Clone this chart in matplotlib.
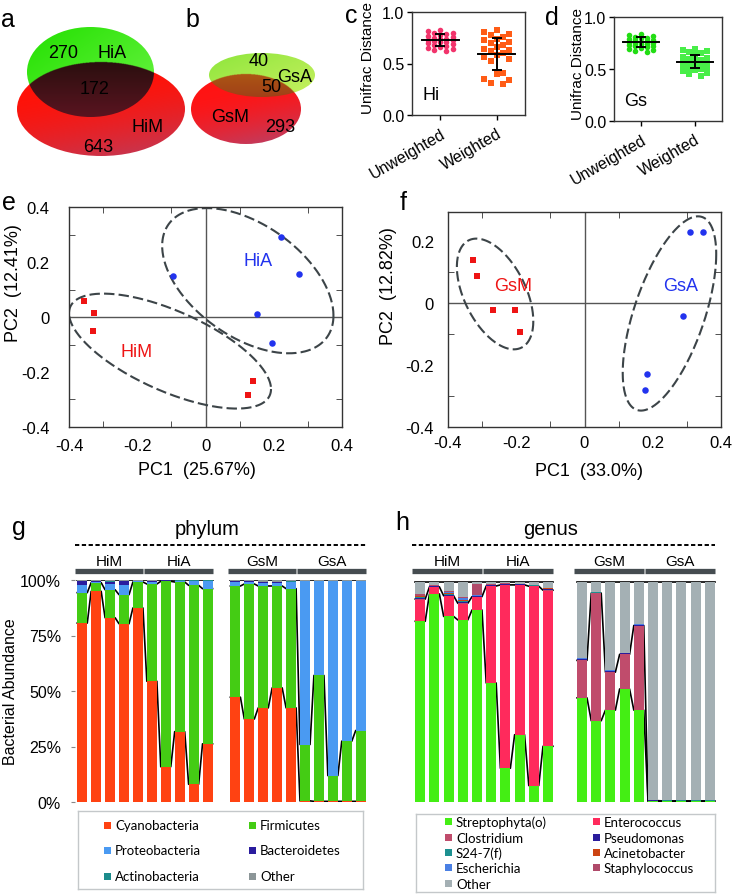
import numpy as np
import matplotlib
matplotlib.use("Agg")
import matplotlib.pyplot as plt
from matplotlib.patches import Ellipse, Rectangle
from matplotlib.colors import to_rgb
from matplotlib.ticker import FixedLocator

plt.rcParams['font.family'] = ['Liberation Sans', 'DejaVu Sans']

W, H = 732, 895

# ---- data ----
hi_counts = [270, 172, 643]      # HiA only, shared, HiM only
gs_counts = [40, 50, 293]        # GsA only, shared, GsM only

dist_groups = ["Unweighted", "Weighted"]
hi_unweighted = [0.83, 0.82, 0.80, 0.80, 0.79, 0.78, 0.77, 0.76, 0.75, 0.74, 0.74, 0.73, 0.73,
                 0.72, 0.71, 0.71, 0.70, 0.69, 0.68, 0.67, 0.66, 0.65, 0.64, 0.63, 0.62]
hi_weighted = [0.83, 0.81, 0.79, 0.78, 0.76, 0.74, 0.73, 0.71, 0.70, 0.68, 0.66, 0.64, 0.63,
               0.62, 0.60, 0.58, 0.56, 0.54, 0.52, 0.41, 0.40, 0.35, 0.34, 0.31, 0.30]
hi_mean = [0.73, 0.59]
hi_sd = [0.06, 0.155]
gs_unweighted = [0.84, 0.83, 0.82, 0.81, 0.80, 0.80, 0.79, 0.78, 0.78, 0.77, 0.76, 0.76, 0.75,
                 0.75, 0.74, 0.74, 0.73, 0.72, 0.72, 0.71, 0.70, 0.69, 0.68, 0.67, 0.66]
gs_weighted = [0.69, 0.68, 0.67, 0.66, 0.65, 0.63, 0.62, 0.61, 0.60, 0.59, 0.58, 0.57, 0.57,
               0.56, 0.55, 0.54, 0.53, 0.52, 0.51, 0.50, 0.49, 0.48, 0.46, 0.45, 0.43]
gs_mean = [0.76, 0.57]
gs_sd = [0.048, 0.063]

him_pc1 = [-0.355, -0.326, -0.331, 0.138, 0.126]
him_pc2 = [0.058, 0.016, -0.052, -0.234, -0.285]
hia_pc1 = [0.222, 0.275, -0.096, 0.151, 0.195]
hia_pc2 = [0.291, 0.158, 0.149, 0.010, -0.093]
gsm_pc1 = [-0.327, -0.314, -0.269, -0.203, -0.190]
gsm_pc2 = [0.139, 0.089, -0.022, -0.022, -0.092]
gsa_pc1 = [0.309, 0.347, 0.289, 0.183, 0.176]
gsa_pc2 = [0.229, 0.229, -0.041, -0.230, -0.281]

sample_groups = ["HiM", "HiA", "GsM", "GsA"]

phylum_names = ["Cyanobacteria", "Firmicutes", "Proteobacteria", "Bacteroidetes",
                "Actinobacteria", "Other"]
phylum_colors = ["#ff4212", "#44cc14", "#4a9af2", "#2a1c9e", "#1c8c8c", "#8c9698"]
cyanobacteria = [80.6, 94.9, 83.0, 80.3, 87.4, 54.4, 15.9, 31.7, 8.0, 26.2,
                 47.2, 37.4, 42.4, 51.4, 42.4, 0.5, 0.3, 0.3, 0.3, 0.3]
firmicutes = [13.7, 3.9, 12.6, 13.1, 11.7, 43.8, 83.5, 67.4, 89.6, 69.9,
              50.1, 60.8, 54.9, 45.9, 53.7, 25.4, 56.7, 11.6, 27.1, 31.9]
proteobacteria = [3.6, 0.5, 2.7, 4.5, 0.3, 1.0, 0.3, 0.5, 2.0, 3.5,
                  2.0, 1.0, 1.5, 1.5, 3.0, 73.5, 42.4, 87.5, 72.0, 67.2]
bacteroidetes = [1.5, 0.3, 1.0, 1.5, 0.2, 0.3, 0.1, 0.1, 0.1, 0.1,
                 0.2, 0.2, 0.2, 0.2, 0.2, 0.1, 0.1, 0.1, 0.1, 0.1]
actinobacteria = [0.2, 0.1, 0.2, 0.2, 0.1, 0.1, 0.1, 0.1, 0.1, 0.1,
                  0.1, 0.1, 0.1, 0.1, 0.1, 0.1, 0.1, 0.1, 0.1, 0.1]
phylum_other = [0.4, 0.3, 0.5, 0.4, 0.3, 0.4, 0.1, 0.2, 0.2, 0.2,
                0.4, 0.5, 0.9, 0.9, 0.6, 0.4, 0.4, 0.4, 0.4, 0.4]

genus_names = ["Streptophyta(o)", "Enterococcus", "Clostridium", "Pseudomonas", "S24-7(f)",
               "Acinetobacter", "Escherichia", "Staphylococcus", "Other"]
genus_colors = ["#44ee14", "#ff2a5c", "#c04c6c", "#2a1c9c", "#1c9090", "#cc4412",
                "#4a80e4", "#b04a6a", "#a4b0b4"]
streptophyta = [81.4, 93.7, 83.6, 82.0, 86.5, 53.6, 15.2, 30.3, 7.4, 25.1,
                46.9, 36.6, 41.4, 50.9, 41.4, 0.3, 0.3, 0.3, 0.3, 0.3]
enterococcus = [9.7, 3.0, 9.0, 7.2, 5.7, 43.5, 82.5, 67.4, 89.7, 70.1,
                0.1, 0.1, 0.1, 0.1, 0.1, 0.1, 0.1, 0.1, 0.1, 0.1]
clostridium = [0.3, 0.2, 0.3, 0.3, 0.3, 0.2, 0.1, 0.1, 0.1, 0.2,
               16.8, 57.4, 17.0, 15.5, 38.0, 0.2, 0.1, 0.1, 0.1, 0.1]
pseudomonas = [0.6, 0.2, 0.5, 0.6, 0.2, 0.3, 0.3, 0.2, 0.3, 0.6,
               0.6, 0.2, 0.5, 0.4, 0.2, 0.1, 0.1, 0.1, 0.1, 0.1]
s24_7 = [0.3, 0.1, 0.3, 0.3, 0.1, 0.1, 0.1, 0.1, 0.1, 0.1,
         0.1, 0.1, 0.1, 0.1, 0.1, 0.1, 0.1, 0.1, 0.1, 0.1]
acinetobacter = [0.4, 0.1, 0.4, 0.8, 0.2, 0.1, 0.1, 0.1, 0.1, 0.1,
                 0.1, 0.1, 0.1, 0.1, 0.1, 0.1, 0.1, 0.1, 0.1, 0.1]
escherichia = [0.3, 0.1, 0.3, 0.6, 0.1, 0.1, 0.1, 0.1, 0.1, 0.3,
               0.1, 0.1, 0.1, 0.1, 0.1, 0.1, 0.1, 0.1, 0.1, 0.1]
staphylococcus = [0.5, 0.3, 0.5, 0.5, 4.9, 0.2, 0.1, 0.1, 0.1, 0.1,
                  0.1, 0.1, 0.1, 0.1, 0.1, 0.1, 0.1, 0.1, 0.1, 0.1]
genus_other = [5.8, 1.6, 4.4, 7.0, 1.3, 1.2, 0.8, 0.9, 1.4, 2.7,
               34.5, 4.6, 39.9, 32.0, 19.2, 98.2, 98.3, 98.3, 98.3, 98.3]


fig = plt.figure(figsize=(W / 100, H / 100), dpi=100)


def px_axes(l, t, r, b):
    return fig.add_axes([l / W, 1 - b / H, (r - l) / W, (b - t) / H])


def panel_label(x, y, s):
    fig.text(x / W, 1 - y / H, s, fontsize=18, ha='center', va='baseline')


# ---- a, b: venn ----
def blend(c0, c1, t):
    c0, c1 = np.array(to_rgb(c0)), np.array(to_rgb(c1))
    return c0 * (1 - t[..., None]) + c1 * t[..., None]


def grid(cx, cy, w, h):
    xs = np.linspace(cx - w / 2, cx + w / 2, int(w * 3))
    ys = np.linspace(cy - h / 2, cy + h / 2, int(h * 3))
    X, Y = np.meshgrid(xs, ys)
    return X, Y, (X - xs[0]) / w, (Y - ys[0]) / h


def draw_venn(ax, top, bot, top_cols, mid_cols, bot_cols):
    cx, cy, w, h = bot
    X, Y, u, v = grid(*bot)
    t = np.clip(0.3 * u + 0.9 * v - 0.3, 0, 1) ** 1.6
    ell = Ellipse((cx, cy), w, h, fc='none', ec='none')
    ax.add_patch(ell)
    im = ax.imshow(blend(bot_cols[0], bot_cols[1], t), extent=(cx - w / 2, cx + w / 2, cy + h / 2, cy - h / 2),
                   origin='upper', aspect='auto', interpolation='bilinear', zorder=1)
    im.set_clip_path(ell)

    tx, ty, tw, th = top
    X, Y, u, v = grid(*top)
    inside = ((X - cx) / (w / 2)) ** 2 + ((Y - cy) / (h / 2)) ** 2 <= 1
    img = np.where(inside[..., None], blend(mid_cols[0], mid_cols[1], v),
                   blend(top_cols[0], top_cols[1], np.clip(0.5 * u + 0.5 * v, 0, 1)))
    ell2 = Ellipse((tx, ty), tw, th, fc='none', ec='none')
    ax.add_patch(ell2)
    im2 = ax.imshow(img, extent=(tx - tw / 2, tx + tw / 2, ty + th / 2, ty - th / 2),
                    origin='upper', aspect='auto', interpolation='bilinear', zorder=2)
    im2.set_clip_path(ell2)


ax_v = px_axes(0, 0, 366, 170)
ax_v.set_xlim(0, 366)
ax_v.set_ylim(170, 0)
ax_v.axis('off')
draw_venn(ax_v, (90.5, 73, 127, 90), (101, 110, 168, 94),
          ('#22e000', '#70f548'), ('#0c0c04', '#5a1420'), ('#ff1208', '#b0446c'))
draw_venn(ax_v, (262, 76, 106, 44), (246, 110, 110, 70),
          ('#8ee63c', '#c8f060'), ('#b86a10', '#a04018'), ('#ff1414', '#a84c7c'))
vt = dict(ha='center', va='center', fontsize=13, zorder=5)
ax_v.text(63, 53, str(hi_counts[0]), **vt)
ax_v.text(112, 53, "HiA", **vt)
ax_v.text(95, 90, str(hi_counts[1]), **vt)
ax_v.text(148, 128, "HiM", **vt)
ax_v.text(98, 148, str(hi_counts[2]), **vt)
ax_v.text(259, 62, str(gs_counts[0]), **vt)
ax_v.text(295, 77, "GsA", **vt)
ax_v.text(271, 88, str(gs_counts[1]), **vt)
ax_v.text(230, 118, "GsM", **vt)
ax_v.text(280, 128, str(gs_counts[2]), **vt)
panel_label(8, 27, 'a')
panel_label(192, 27, 'b')


# ---- c, d: unifrac distances ----
def dist_panel(ax, series, colors, markers, means, sds, tag, label_y):
    for i, vals in enumerate(series):
        v = np.sort(vals)[::-1]
        offs = np.array([0, -2, 2, -1, 1])[np.arange(len(v)) % 5] * 0.11
        ax.scatter(i + offs, v, s=16, c=colors[i], marker=markers[i], lw=0, zorder=2)
        ax.errorbar(i, means[i], yerr=sds[i], color='k', capsize=3.6, lw=1.4, capthick=1.4, zorder=3)
        ax.plot([i - 0.33, i + 0.33], [means[i], means[i]], color='k', lw=1.4, zorder=3)
    ax.set_xlim(-0.5, 1.5)
    ax.set_ylim(0, 1.0)
    ax.set_yticks([0, 0.5, 1.0], ['0.0', '0.5', '1.0'])
    ax.set_xticks([0, 1])
    ax.set_xticklabels(dist_groups, rotation=30, ha='right', va='top', rotation_mode='anchor')
    ax.tick_params(labelsize=11.5, length=3.5, width=1, pad=2)
    ax.tick_params(axis='x', pad=4)
    for s in ax.spines.values():
        s.set_linewidth(1.0)
        s.set_color('#333333')
    ax.set_ylabel("Unifrac Distance", fontsize=11)
    ax.yaxis.set_label_coords(label_y, 0.56)
    ax.text(0.09, 0.2, tag, transform=ax.transAxes, fontsize=13, ha='left', va='center')


ax_c = px_axes(412, 13, 525, 116)
dist_panel(ax_c, [hi_unweighted, hi_weighted], ['#f2346c', '#ff5c16'], ['o', 's'],
           hi_mean, hi_sd, "Hi", -0.33)
ax_d = px_axes(614, 18, 722, 122)
dist_panel(ax_d, [gs_unweighted, gs_weighted], ['#22dd14', '#48ee48'], ['o', 's'],
           gs_mean, gs_sd, "Gs", -0.27)
panel_label(351, 23, 'c')
panel_label(552, 25, 'd')


# ---- e, f: PCoA ----
def ring(ax, cx, cy, dx, dy, k):
    t = np.linspace(0, 2 * np.pi, 300)
    phi = np.arccos(k)
    ax.plot(cx + dx * np.cos(t), cy + dy * np.cos(t + phi), color='#3c4448', lw=1.5,
            ls=(0, (5, 2)), zorder=1)


def pca_panel(ax, ylim, minor_y):
    ax.set_xlim(-0.4, 0.4)
    ax.set_ylim(*ylim)
    ax.axhline(0, color='#555555', lw=1.0, zorder=0)
    ax.axvline(0, color='#555555', lw=1.0, zorder=0)
    ax.set_xticks([-0.4, -0.2, 0, 0.2, 0.4], ['-0.4', '-0.2', '0', '0.2', '0.4'])
    ax.xaxis.set_minor_locator(FixedLocator([-0.3, -0.1, 0.1, 0.3]))
    ax.yaxis.set_minor_locator(FixedLocator(minor_y))
    ax.tick_params(which='major', length=0, labelsize=12)
    ax.tick_params(which='minor', length=4, direction='in', top=True, right=True, color='#333333')
    for s in ax.spines.values():
        s.set_linewidth(1.0)
        s.set_color('#333333')


ax_e = px_axes(69, 208, 342, 428)
pca_panel(ax_e, (-0.4, 0.4), [-0.3, -0.1, 0.1, 0.3])
ax_e.set_yticks([-0.4, -0.2, 0, 0.2, 0.4], ['-0.4', '-0.2', '0', '0.2', '0.4'])
ax_e.tick_params(axis='y', pad=14)
ax_e.tick_params(axis='x', pad=8)
ring(ax_e, 0.124, 0.132, 0.251, 0.264, -0.48)
ring(ax_e, -0.104, -0.124, 0.296, 0.209, -0.66)
ax_e.scatter(hia_pc1, hia_pc2, s=22, c='#2233ee', marker='o', lw=0, zorder=3)
ax_e.scatter(him_pc1, him_pc2, s=22, c='#ee1414', marker='s', lw=0, zorder=3)
ax_e.text(0.155, 0.206, "HiA", color='#2233ee', fontsize=13, ha='center', va='center')
ax_e.text(-0.201, -0.127, "HiM", color='#ee1414', fontsize=13, ha='center', va='center')
ax_e.set_xlabel("PC1  (25.67%)", fontsize=13)
ax_e.set_ylabel("PC2  (12.41%)", fontsize=13)
ax_e.xaxis.set_label_coords(0.469, -0.155)
ax_e.yaxis.set_label_coords(-0.172, 0.66)

ax_f = px_axes(448, 213, 721, 428)
pca_panel(ax_f, (-0.4, 0.295), [-0.3, -0.1, 0.1])
ax_f.set_yticks([-0.4, -0.2, 0, 0.2], ['-0.4', '-0.2', '0', '0.2'])
ax_f.tick_params(axis='y', pad=10)
ax_f.tick_params(axis='x', pad=6)
ring(ax_f, -0.262, 0.030, 0.112, 0.179, -0.49)
ring(ax_f, 0.249, -0.033, 0.137, 0.314, 0.61)
ax_f.scatter(gsa_pc1, gsa_pc2, s=22, c='#2233ee', marker='o', lw=0, zorder=3)
ax_f.scatter(gsm_pc1, gsm_pc2, s=22, c='#ee1414', marker='s', lw=0, zorder=3)
ax_f.text(-0.208, 0.058, "GsM", color='#ee1414', fontsize=13, ha='center', va='center')
ax_f.text(0.282, 0.058, "GsA", color='#2233ee', fontsize=13, ha='center', va='center')
ax_f.set_xlabel("PC1  (33.0%)", fontsize=13)
ax_f.set_ylabel("PC2  (12.82%)", fontsize=13)
ax_f.xaxis.set_label_coords(0.515, -0.163)
ax_f.yaxis.set_label_coords(-0.185, 0.66)
panel_label(9, 210, 'e')
panel_label(403, 210, 'f')


# ---- g, h: stacked composition ----
def composition(ax, pos, layers, colors, width, line_levels, title):
    layers = np.array(layers)
    bottom = np.zeros(len(pos))
    for vals, col in zip(layers, colors):
        ax.bar(pos, vals, width, bottom=bottom, color=col, lw=0, zorder=2)
        bottom = bottom + vals
    cum = np.cumsum(layers, axis=0)
    for sl in (slice(0, 10), slice(10, 20)):
        xs = np.column_stack([pos[sl] - width / 2, pos[sl] + width / 2]).ravel()
        for lev in line_levels:
            ax.plot(xs, np.repeat(cum[lev, sl], 2), color='k', lw=1.2, zorder=1)
    spans = []
    for gi, name in enumerate(sample_groups):
        p = pos[gi * 5:(gi + 1) * 5]
        x0, x1 = p[0] - 0.55, p[-1] + 0.38
        spans.append((x0, x1))
        ax.plot([x0, x1], [104, 104], color='#454c50', lw=3.8, solid_capstyle='butt', clip_on=False)
        ax.text((x0 + x1) / 2, 108.6, name, ha='center', va='center', fontsize=11)
    ax.plot([spans[0][0], spans[-1][1]], [115.8, 115.8], color='k', lw=1.4, ls=(0, (2.2, 1.3)),
            clip_on=False)
    ax.text(0.455, 123, title, transform=ax.get_yaxis_transform(), ha='center', va='center',
            fontsize=14.5)
    ax.set_ylim(0, 100)
    for s in ax.spines.values():
        s.set_visible(False)
    ax.set_xticks([])


idx = np.arange(20)
g_pos = idx + (idx >= 10) * 1.0
h_pos = idx + (idx >= 10) * 1.4

ax_g = px_axes(75, 581, 366, 803)
composition(ax_g, g_pos, [cyanobacteria, firmicutes, proteobacteria, bacteroidetes,
                          actinobacteria, phylum_other], phylum_colors, 0.72, [0, 1, 5], "phylum")
ax_g.set_xlim(-0.52, 20.38)
ax_g.set_yticks([0, 25, 50, 75, 100], ['0%', '25%', '50%', '75%', '100%'])
ax_g.tick_params(axis='y', labelsize=11.5, length=3, pad=7, color='#888888')
ax_g.set_ylabel("Bacterial Abundance", fontsize=11.5)
ax_g.yaxis.set_label_coords(-0.195, 0.5)

ax_h = px_axes(413, 581, 716, 803)
composition(ax_h, h_pos, [streptophyta, enterococcus, clostridium, pseudomonas, s24_7,
                          acinetobacter, escherichia, staphylococcus, genus_other],
            genus_colors, 0.7, [0, 2, 8], "genus")
ax_h.set_xlim(-0.51, 20.84)
ax_h.set_yticks([])
panel_label(19, 535, 'g')
panel_label(402, 530, 'h')


# ---- legends ----
def legend_box(l, t, r, b, names, colors, x_cols, y_rows, fs):
    lax = px_axes(l, t, r, b)
    lax.set_xlim(l, r)
    lax.set_ylim(b, t)
    lax.set_xticks([])
    lax.set_yticks([])
    for s in lax.spines.values():
        s.set_color('#c4c8ca')
        s.set_linewidth(1.0)
    for i, (name, col) in enumerate(zip(names, colors)):
        x = x_cols[i % 2]
        y = y_rows[i // 2]
        lax.add_patch(Rectangle((x - 3.5, y - 3.5), 7, 7, color=col, lw=0))
        lax.text(x + 8, y, name, fontsize=fs, ha='left', va='center', family=['Lato', 'DejaVu Sans'])


legend_box(78, 812, 363, 890, phylum_names, phylum_colors, [107, 252], [826, 851, 877], 9.5)
legend_box(416, 815, 715, 893, genus_names, genus_colors, [448, 596],
           [823, 839, 854, 869, 885], 9.5)

fig.savefig("out.png", dpi=100)
